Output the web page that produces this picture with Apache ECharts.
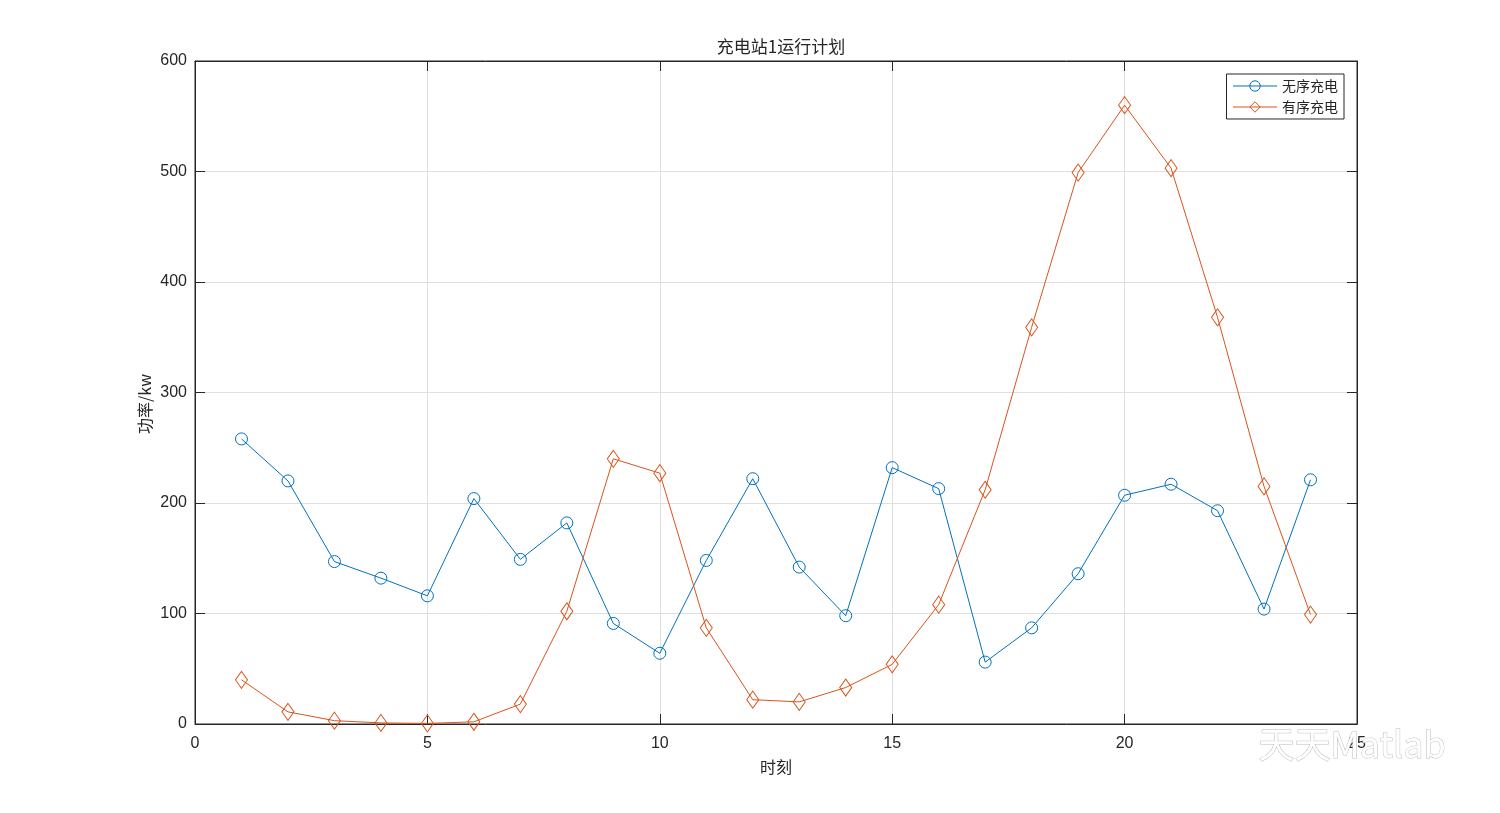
<!DOCTYPE html>
<html><head><meta charset="utf-8">
<script src="https://cdn.jsdelivr.net/npm/echarts@6/dist/echarts.min.js"></script>
<style>html,body{margin:0;padding:0;background:#fff}#c{width:1500px;height:813px}</style>
</head><body><div id="c"></div>
<script>
const hours = [1,2,3,4,5,6,7,8,9,10,11,12,13,14,15,16,17,18,19,20,21,22,23,24];
const unordered = [258,220,147,132,116,204,149,182,91,64,148,222,142,98,232,213,56,87,136,207,217,193,104,221];
const ordered = [40,11,3,1,0.5,2,18,102,240,227,87,22,20,33,54,108,212,359,499,560,503,368,215,99];
const xTicks = [0,5,10,15,20,25];
const yTicks = [0,100,200,300,400,500,600];
const seriesNames = ['无序充电','有序充电'];
const colors = ['#0072BD','#D95319'];

const chart = echarts.init(document.getElementById('c'), null, {renderer:'canvas'});
const axisColor = '#262626';
const tickFont = {fontFamily:'Liberation Sans, Arial, sans-serif', fontSize:16, color:axisColor};
const cjk = 'Noto Sans CJK SC, sans-serif';
function pairs(v){ return hours.map((h,i)=>[h, v[i]]); }
const tick = {show:true, inside:true, length:10, lineStyle:{color:axisColor}};
const line = {show:true, onZero:false, lineStyle:{color:axisColor}};
chart.setOption({
  animation:false,
  backgroundColor:'#fff',
  title:{text:'充电站1运行计划', left:776, top:33, textAlign:'center',
    textStyle:{fontFamily:cjk, fontSize:17, fontWeight:'normal', color:axisColor}},
  grid:{left:195, right:143, top:61, bottom:89, show:true, borderColor:axisColor, borderWidth:1},
  legend:{right:156, top:74, orient:'vertical', itemWidth:44, itemHeight:13, itemGap:7,
    backgroundColor:'#fff', borderColor:axisColor, borderWidth:1, padding:[5,6,5,6],
    textStyle:{fontFamily:cjk, fontSize:14, color:axisColor},
    lineStyle:{width:1}, itemStyle:{borderWidth:1},
    data:seriesNames},
  xAxis:[{type:'value', min:0, max:25, interval:5, name:'时刻', nameLocation:'middle', nameGap:35,
    nameTextStyle:{fontFamily:cjk, fontSize:16, color:axisColor},
    axisLine:line, axisTick:tick,
    axisLabel:Object.assign({margin:12, formatter:v=>xTicks.includes(v)?String(v):''}, tickFont),
    splitLine:{show:true, lineStyle:{color:'#dfdfdf'}}},
    {type:'value', min:0, max:25, interval:5, position:'top',
    axisLine:line, axisTick:tick,
    axisLabel:{show:false}, splitLine:{show:false}}],
  yAxis:[{type:'value', min:0, max:600, interval:100, position:'left',
    axisLine:line, axisTick:tick,
    axisLabel:Object.assign({margin:8, formatter:v=>yTicks.includes(v)?String(v):''}, tickFont),
    splitLine:{show:true, lineStyle:{color:'#dfdfdf'}}},
    {type:'value', min:0, max:600, interval:100, position:'right',
    axisLine:line, axisTick:tick,
    axisLabel:{show:false}, splitLine:{show:false}}],
  series:[
    {name:seriesNames[0], type:'line', data:pairs(unordered), symbol:'circle', symbolSize:12,
      lineStyle:{width:1, color:colors[0]},
      itemStyle:{color:'rgba(255,255,255,0)', borderColor:colors[0], borderWidth:1}},
    {name:seriesNames[1], type:'line', data:pairs(ordered), symbol:'diamond', symbolSize:[12,17],
      lineStyle:{width:1, color:colors[1]},
      itemStyle:{color:'rgba(255,255,255,0)', borderColor:colors[1], borderWidth:1}}
  ],
  graphic:[
    {type:'text', x:145, y:404, rotation:Math.PI/2, z:100,
      style:{text:'功率/kw', fontFamily:cjk, fontSize:16, fill:axisColor, align:'center', verticalAlign:'middle'}},
    {type:'text', left:1258, top:726, z:100,
      style:{text:'天天Matlab', fontFamily:cjk, fontSize:36, fill:'#ffffff', stroke:'#bdbdbd', lineWidth:1}}]
});
</script></body></html>
